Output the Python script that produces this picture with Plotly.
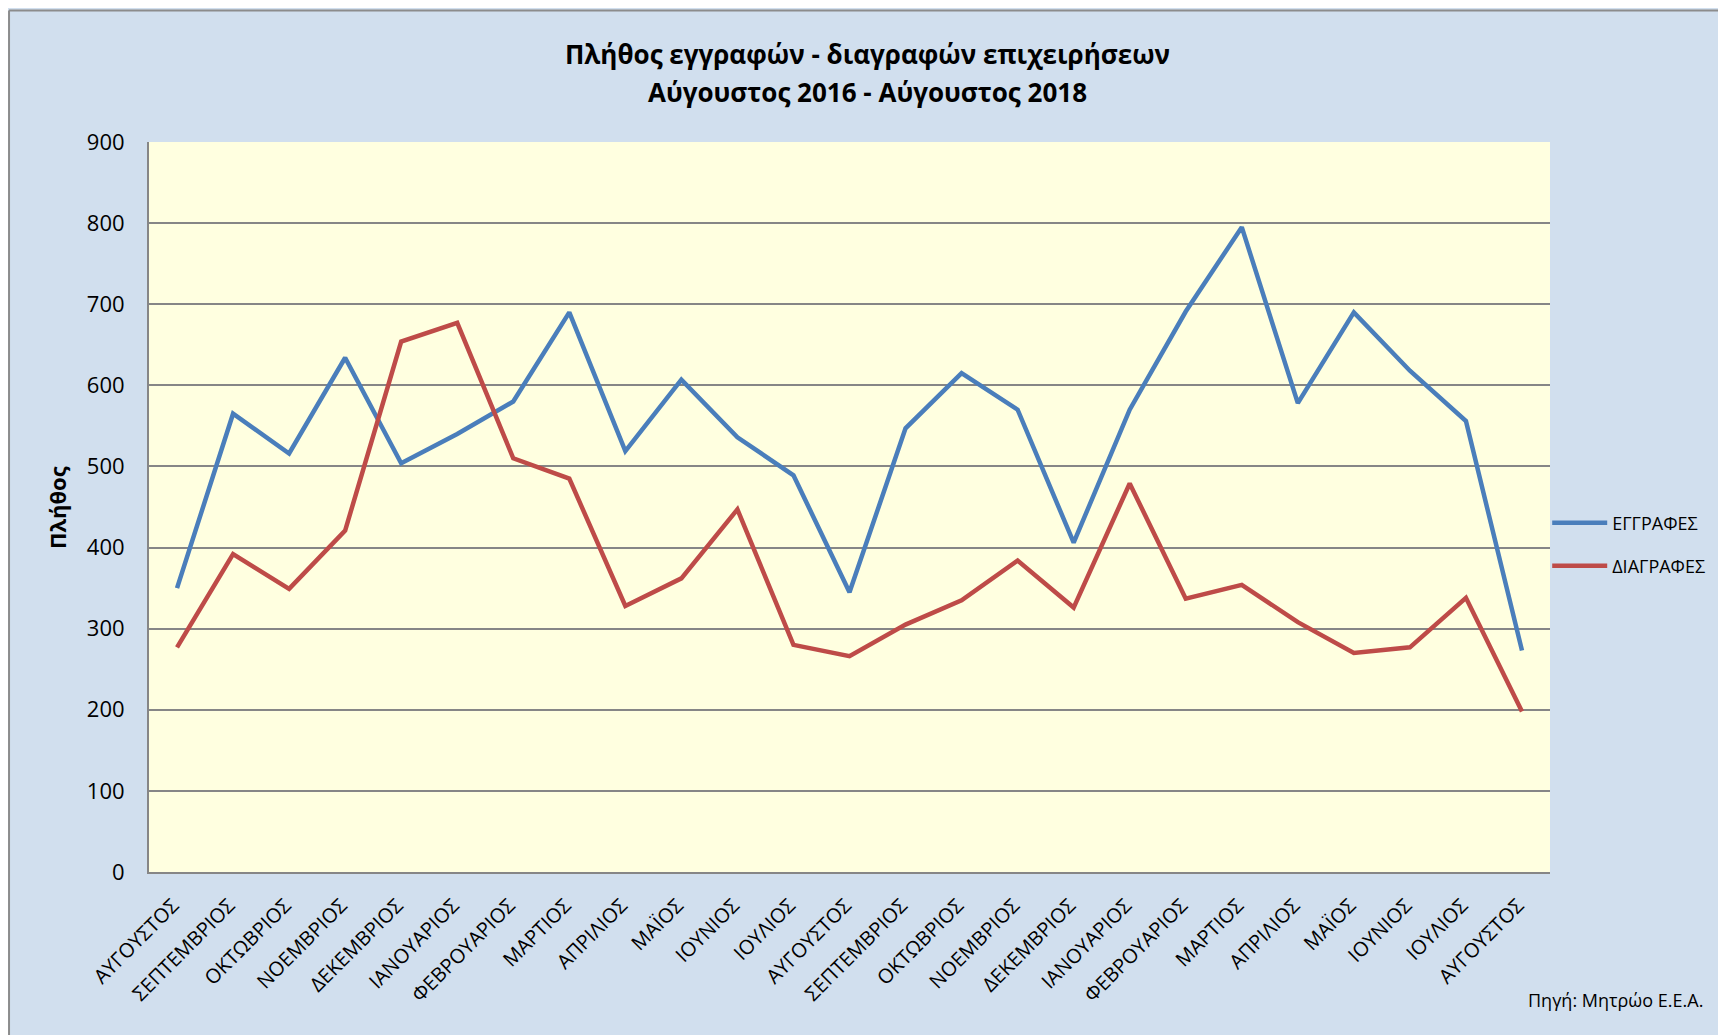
import plotly.graph_objects as go

months = ["ΑΥΓΟΥΣΤΟΣ", "ΣΕΠΤΕΜΒΡΙΟΣ", "ΟΚΤΩΒΡΙΟΣ", "ΝΟΕΜΒΡΙΟΣ", "ΔΕΚΕΜΒΡΙΟΣ", "ΙΑΝΟΥΑΡΙΟΣ",
          "ΦΕΒΡΟΥΑΡΙΟΣ", "ΜΑΡΤΙΟΣ", "ΑΠΡΙΛΙΟΣ", "ΜΑΪΟΣ", "ΙΟΥΝΙΟΣ", "ΙΟΥΛΙΟΣ",
          "ΑΥΓΟΥΣΤΟΣ", "ΣΕΠΤΕΜΒΡΙΟΣ", "ΟΚΤΩΒΡΙΟΣ", "ΝΟΕΜΒΡΙΟΣ", "ΔΕΚΕΜΒΡΙΟΣ", "ΙΑΝΟΥΑΡΙΟΣ",
          "ΦΕΒΡΟΥΑΡΙΟΣ", "ΜΑΡΤΙΟΣ", "ΑΠΡΙΛΙΟΣ", "ΜΑΪΟΣ", "ΙΟΥΝΙΟΣ", "ΙΟΥΛΙΟΣ", "ΑΥΓΟΥΣΤΟΣ"]
positions = list(range(len(months)))

eggrafes = [350, 565, 516, 634, 504, 540, 580, 690, 519, 607, 536, 489,
            345, 547, 615, 570, 406, 570, 691, 795, 578, 690, 618, 556, 273]
diagrafes = [277, 392, 349, 421, 654, 677, 510, 485, 328, 362, 447, 280,
             266, 305, 335, 384, 326, 479, 337, 354, 308, 270, 277, 338, 198]

FONT = "Open Sans"
PAPER = "#D1DFEE"
GRID = "#868686"

fig = go.Figure()
fig.add_trace(go.Scatter(x=positions, y=eggrafes, mode="lines", name="ΕΓΓΡΑΦΕΣ",
                         line=dict(color="#4A7EBB", width=4.5), legend="legend"))
fig.add_trace(go.Scatter(x=positions, y=diagrafes, mode="lines", name="ΔΙΑΓΡΑΦΕΣ",
                         line=dict(color="#BE4B48", width=4.5), legend="legend2"))

fig.update_layout(
    width=1726, height=1035,
    margin=dict(l=141, r=184, t=134, b=171),
    paper_bgcolor=PAPER, plot_bgcolor="#FFFFE0",
    font=dict(family=FONT, color="#000000"),
    showlegend=True,
    legend=dict(x=0.998, xanchor="left", y=0.478, yanchor="middle", itemwidth=55,
                bgcolor="rgba(0,0,0,0)", font=dict(size=18, family=FONT)),
    legend2=dict(x=0.998, xanchor="left", y=0.419, yanchor="middle", itemwidth=55,
                 bgcolor="rgba(0,0,0,0)", font=dict(size=18, family=FONT)),
    xaxis=dict(tickmode="array", tickvals=positions, ticktext=months,
               range=[-0.5, len(months) - 0.5], tickangle=-45,
               tickfont=dict(size=20, family=FONT), showgrid=False,
               ticklabelstandoff=12, ticklabelshift=-4,
               showline=True, linecolor=GRID, linewidth=2, ticks="", zeroline=False),
    yaxis=dict(range=[0, 900], dtick=100, tickfont=dict(size=22, family=FONT),
               showgrid=True, gridcolor=GRID, gridwidth=2,
               showline=True, linecolor=GRID, linewidth=2, zeroline=False,
               ticks="", ticklabelstandoff=18),
)

annotations = [
    dict(text="<b>Πλήθος εγγραφών - διαγραφών επιχειρήσεων</b>", x=0.5132, y=1.1205,
         font=dict(size=26, family=FONT)),
    dict(text="<b>Αύγουστος 2016 - Αύγουστος 2018</b>", x=0.5132, y=1.0685,
         font=dict(size=26, family=FONT)),
    dict(text="<b>Πλήθος</b>", x=-0.0657, y=0.5, textangle=-90,
         font=dict(size=22, family=FONT)),
    dict(text="Πηγή: Μητρώο Ε.Ε.Α.", x=1.1106, y=-0.1753, xanchor="right",
         font=dict(size=18, family=FONT)),
]
for a in annotations:
    a.setdefault("xanchor", "center")
    fig.add_annotation(xref="paper", yref="paper", showarrow=False, yanchor="middle", **a)

# gray chart frame along the top and left edges
fig.add_shape(type="line", xref="paper", yref="paper", x0=-0.0999, x1=1.3, y0=1.1801, y1=1.1801,
              line=dict(color="#8C8C8C", width=2), layer="above")
fig.add_shape(type="line", xref="paper", yref="paper", x0=-0.0999, x1=-0.0999, y0=-0.3, y1=1.1801,
              line=dict(color="#8C8C8C", width=2), layer="above")

fig.write_html("out.html")
